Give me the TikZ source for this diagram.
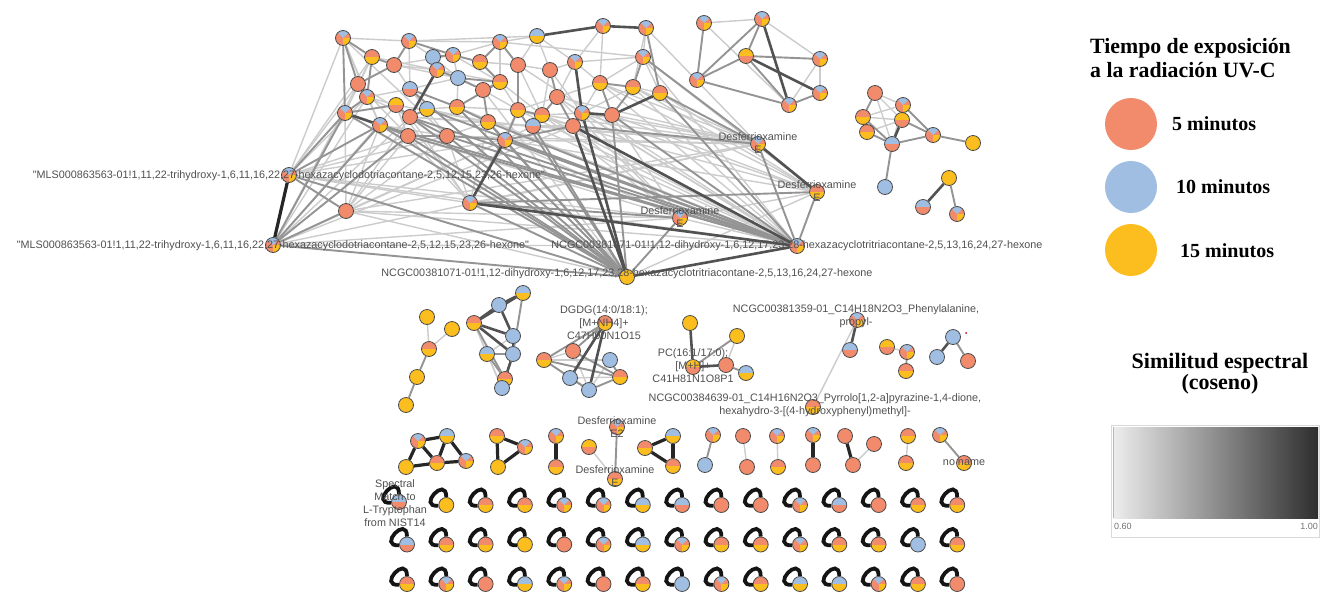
\documentclass[tikz,border=0pt]{standalone}
\usepackage{fontspec}
\setmainfont{Liberation Serif}
\newfontfamily\lsans{Liberation Sans}
\definecolor{cO}{RGB}{242,139,108}
\definecolor{cB}{RGB}{160,190,226}
\definecolor{cY}{RGB}{252,190,30}
\definecolor{cE}{RGB}{75,75,75}
\definecolor{cT}{RGB}{80,80,80}
\pgfdeclarelayer{bg}
\pgfsetlayers{bg,main}
\tikzset{
 nd/.style={circle,draw=cE,line width=0.8pt,minimum size=15pt,inner sep=0pt},
 lowhalf/.style={path picture={\fill[#1] (path picture bounding box.west) rectangle (path picture bounding box.south east);}},
 nO/.style={nd,fill=cO},
 nB/.style={nd,fill=cB},
 nY/.style={nd,fill=cY},
 nOY/.style={nd,fill=cO,lowhalf=cY},
 nBY/.style={nd,fill=cB,lowhalf=cY},
 nBO/.style={nd,fill=cB,lowhalf=cO},
 nYO/.style={nd,fill=cY,lowhalf=cO},
 nP/.style={nd,fill=cO,path picture={
   \fill[cB] (path picture bounding box.center) -- (path picture bounding box.north west) -- (path picture bounding box.north east) -- cycle;
   \fill[cY] (path picture bounding box.center) -- (path picture bounding box.east) -- (path picture bounding box.south east) -- (path picture bounding box.south) -- cycle;}},
 eL/.style={draw=black!20,line width=1.4pt},
 eM/.style={draw=black!42,line width=1.9pt},
 eD/.style={draw=black!68,line width=2.6pt},
 eK/.style={draw=black!85,line width=3.2pt},
 sl/.style={draw=black!92,line width=3.8pt},
 lbl/.style={font=\lsans\fontsize{10.8}{13}\selectfont,text=cT,inner sep=0pt,align=center},
 legc/.style={circle,minimum size=52pt,inner sep=0pt},
 legt/.style={font=\bfseries\fontsize{20}{24}\selectfont,inner sep=0pt,anchor=west},
}
\begin{document}
\begin{tikzpicture}[x=1pt,y=-1pt]
\useasboundingbox (0,0) rectangle (1320,592);
\begin{pgfonlayer}{bg}
\fill[white] (0,0) rectangle (1320,592);
\end{pgfonlayer}

% ---------------- main cluster nodes
\node[nP] (A1) at (343,38) {};
\node[nP] (A2) at (409,41) {};
\node[nOY] (A3) at (372,57) {};
\node[nO] (A4) at (394,65) {};
\node[nB] (A5) at (433,57) {};
\node[nP] (A6) at (453,55) {};
\node[nOY] (A7) at (480,62) {};
\node[nP] (A8) at (437,70) {};
\node[nB] (A9) at (458,78) {};
\node[nP] (A10) at (500,42) {};
\node[nO] (A11) at (518,65) {};
\node[nOY] (A12) at (500,82) {};
\node[nO] (A13) at (483,90) {};
\node[nBY] (A14) at (537,36) {};
\node[nO] (A15) at (550,70) {};
\node[nP] (A16) at (603,26) {};
\node[nP] (A17) at (646,28) {};
\node[nP] (A18) at (575,62) {};
\node[nP] (A19) at (643,57) {};
\node[nO] (A20) at (358,84) {};
\node[nBO] (A21) at (410,89) {};
\node[nP] (A22) at (367,97) {};
\node[nYO] (A23) at (396,105) {};
\node[nBY] (A24) at (427,109) {};
\node[nOY] (A25) at (457,107) {};
\node[nO] (A26) at (410,117) {};
\node[nP] (A27) at (345,113) {};
\node[nP] (A28) at (380,125) {};
\node[nOY] (A29) at (518,110) {};
\node[nOY] (A30) at (542,115) {};
\node[nOY] (A31) at (488,122) {};
\node[nBO] (A32) at (533,126) {};
\node[nO] (A33) at (557,97) {};
\node[nOY] (A34) at (600,83) {};
\node[nOY] (A35) at (633,87) {};
\node[nOY] (A36) at (660,93) {};
\node[nP] (A37) at (582,113) {};
\node[nO] (A38) at (612,115) {};
\node[nO] (A39) at (573,126) {};
\node[nO] (A40) at (408,136) {};
\node[nO] (A41) at (447,136) {};
\node[nP] (A42) at (505,140) {};
\node[nP] (MA) at (289,175) {};
\node[nP] (MB) at (273,245) {};
\node[nO] (X1) at (346,211) {};
\node[nP] (X2) at (470,203) {};
\node[nP] (NA) at (797,246) {};
\node[nY] (NB) at (627,277) {};
\node[nP] (DA) at (758,144) {};
\node[nOY] (DB) at (817,192) {};
\node[nP] (DC) at (680,218) {};

% ---------------- top right cluster
\node[nP] (T1) at (704,23) {};
\node[nP] (T2) at (762,19) {};
\node[nYO] (T3) at (746,56) {};
\node[nP] (T4) at (820,59) {};
\node[nP] (T5) at (697,80) {};
\node[nP] (T6) at (820,93) {};
\node[nP] (T7) at (789,105) {};

% ---------------- right cluster
\node[nO] (R1) at (875,93) {};
\node[nP] (R2) at (903,105) {};
\node[nOY] (R3) at (863,117) {};
\node[nYO] (R4) at (902,120) {};
\node[nOY] (R5) at (867,132) {};
\node[nBO] (R6) at (892,144) {};
\node[nP] (R7) at (933,135) {};
\node[nY] (R8) at (973,143) {};
\node[nB] (R9) at (885,187) {};
\node[nY] (R10) at (949,178) {};
\node[nBO] (R11) at (923,207) {};
\node[nP] (R12) at (957,214) {};

% ---------------- middle clusters
\node[nY] (M1) at (427,317) {};
\node[nY] (M2) at (452,329) {};
\node[nOY] (M3) at (429,349) {};
\node[nY] (M4) at (417,377) {};
\node[nY] (M5) at (406,405) {};
\node[nBY] (C1) at (523,293) {};
\node[nB] (C2) at (499,305) {};
\node[nOY] (C3) at (474,323) {};
\node[nB] (C4) at (513,336) {};
\node[nBY] (C5) at (487,354) {};
\node[nB] (C6) at (513,354) {};
\node[nOY] (C7) at (505,379) {};
\node[nB] (C8) at (502,388) {};
\node[nOY] (D1) at (605,323) {};
\node[nO] (D2) at (573,351) {};
\node[nOY] (D3) at (544,360) {};
\node[nB] (D4) at (610,360) {};
\node[nOY] (D5) at (620,377) {};
\node[nB] (D6) at (570,378) {};
\node[nB] (D7) at (589,390) {};
\node[nY] (P1) at (690,323) {};
\node[nY] (P2) at (737,336) {};
\node[nYO] (P3) at (693,367) {};
\node[nO] (P4) at (726,365) {};
\node[nBY] (P5) at (746,373) {};
\node[nP] (Q1) at (857,320) {};
\node[nBO] (Q2) at (850,350) {};
\node[nOY] (Q3) at (813,407) {};
\node[nYO] (S1) at (887,347) {};
\node[nP] (S2) at (907,352) {};
\node[nOY] (S3) at (906,371) {};
\node[nB] (U1) at (953,337) {};
\node[nB] (U2) at (937,357) {};
\node[nO] (U3) at (968,361) {};
\fill[red!80!black] (966,333) circle (1pt);

% ---------------- small components row
\node[nP] (V1) at (418,441) {};
\node[nBY] (V2) at (447,436) {};
\node[nY] (V3) at (406,467) {};
\node[nOY] (V4) at (437,463) {};
\node[nP] (V5) at (466,461) {};
\node[nOY] (W1) at (497,436) {};
\node[nP] (W2) at (525,447) {};
\node[nY] (W3) at (498,467) {};
\node[nP] (X3) at (556,436) {};
\node[nOY] (X4) at (556,467) {};
\node[nP] (Y1) at (617,427) {};
\node[nYO] (Y2) at (589,447) {};
\node[nOY] (Y3) at (615,479) {};
\node[nOY] (Z1) at (645,448) {};
\node[nBY] (Z2) at (673,436) {};
\node[nOY] (Z3) at (673,466) {};
\node[nP] (K1) at (713,435) {};
\node[nB] (K2) at (705,465) {};
\node[nO] (K3) at (743,436) {};
\node[nO] (K4) at (747,467) {};
\node[nP] (K5) at (777,436) {};
\node[nOY] (K6) at (778,467) {};
\node[nP] (K7) at (813,435) {};
\node[nO] (K8) at (813,465) {};
\node[nO] (K9) at (845,436) {};
\node[nO] (K10) at (853,465) {};
\node[nO] (K11) at (874,444) {};
\node[nOY] (K12) at (908,436) {};
\node[nOY] (K13) at (906,463) {};
\node[nP] (K14) at (940,435) {};
\node[nOY] (K15) at (964,463) {};

% ---------------- self-loop grid
\foreach \st [count=\i from 0] in {nBO,nY,nOY,nOY,nP,nP,nBY,nBO,nO,nO,nP,nBO,nO,nOY,nOY,
  nBO,nOY,nOY,nY,nO,nP,nBY,nP,nOY,nOY,nP,nOY,nOY,nB,nOY,
  nOY,nP,nO,nBY,nP,nO,nOY,nB,nP,nOY,nBY,nBY,nP,nOY,nO}{
  \pgfmathtruncatemacro\col{mod(\i,15)}
  \pgfmathtruncatemacro\row{div(\i,15)}
  \pgfmathsetmacro\xx{407+39.3*\col-8*(\i==0)}
  \pgfmathsetmacro\yy{505+39.5*\row-3*(\i==0)}
  \node[\st] (L\i) at (\xx,\yy) {};
  \begin{pgfonlayer}{bg}
  \draw[sl] (L\i) to[out=185,in=90,min distance=22pt] (L\i);
  \end{pgfonlayer}
}

% ---------------- edges
\begin{pgfonlayer}{bg}
\foreach \a/\b in {A1/A2,A2/A10,A4/A8,A5/A8,A6/A9,A10/A14,A14/A18,A16/A18,A18/A19,A17/A19,A15/A18,A19/A34,A33/A34,A11/A15,A29/A33,A21/A22,A22/A23,A3/A20,A24/A25,A12/A29,A30/A37,A32/A39,A35/A36,A9/A21,A7/A11,
  A1/MA,A20/MA,A27/X1,A28/X1,X1/NA,MA/A40,MA/A41,MA/X2,MA/A42,MB/A42,MB/A39,MB/DC,MB/NA,X1/NB,X2/DA,A42/DA,A41/DA,A38/DB,A36/DB,A19/DB,A35/DA,A34/DA,A33/NA,A11/NA,A30/DC,A13/NB,A25/NA,A31/DA,DC/DB,NB/DB,DC/NA,MA/DC,A2/A14,A6/A10,A20/A40,A21/A41,A4/A9,A23/A31,A8/A13,A10/A19,A26/DA,A40/DC,A1/A41,
  A3/A8,A4/A6,A5/A9,A6/A12,A8/A12,A20/A26,A21/A24,A22/A26,A22/A28,A23/A40,A24/A31,A25/A29,A26/A31,A27/A40,A28/A41,A9/A25,A11/A30,A12/A30,A13/A29,A15/A30,A15/A37,A16/A34,A17/A35,A18/A33,A18/A34,A33/A37,A34/A37,A35/A37,A29/A39,A30/A39,A31/A41,A32/A42,A2/A5,A1/A22,A1/A28,A3/A27,A2/A21,A4/A21,A10/A12,A14/A15,A19/A36,A14/A11,
  A22/MB,A23/MB,A26/MB,A20/MB,A3/MA,A22/MA,A26/X1,A40/X1,A41/X1,A42/X1,A23/X2,A26/X2,A40/X2,A41/X2,A31/X2,A29/X2,A37/DA,A38/DA,A33/DA,A30/DA,A32/DA,A39/DB,A37/DB,A34/DB,A35/DB,A42/DB,A33/DC,A38/DC,A39/DC,A42/DC,A37/DC,A32/NA,A30/NA,A29/NA,A35/NA,A34/NA,A37/NA,A19/NA,A17/DA,X1/DA,MA/NA,MB/DA,X1/DC}
  \draw[eL] (\a) -- (\b);
\foreach \a/\b in {A1/A3,A1/A27,A1/A20,A2/A4,A3/A4,A3/A22,A4/A20,A6/A7,A7/A10,A7/A12,A9/A12,A9/A13,A10/A11,A11/A29,A12/A13,A13/A31,A15/A33,A17/A36,A19/A35,A20/A22,A21/A25,A22/A27,A23/A26,A23/A27,A24/A26,A25/A31,A26/A41,A28/A40,A29/A30,A29/A42,A30/A32,A31/A42,A32/A33,A33/A39,A34/A35,A34/A38,A35/A38,A37/A39,A39/A42,A40/A41,A41/A42,A2/A6,A5/A6,A8/A9,A12/A25,
  A27/MB,A28/MB,A40/MB,A40/NA,A41/NA,A26/NA,A42/NA,A28/NA,A40/NB,A41/NB,A42/NB,A32/NB,A29/NB,A38/NA,A36/NA,A38/NB,A39/DA,A36/DA,A19/DA,X1/MB,X1/MA,X2/NB,X2/DC,X2/DB,MB/NB,MA/NB,NA/DA,NA/DB,NB/DC,A31/NA,A24/NA,A21/NB,A28/MA,A27/MA,A27/NB,A28/NB,A26/NB,A31/NB,A25/NB}
  \draw[eM] (\a) -- (\b);
\foreach \a/\b in {A8/A26,A27/A28,A18/A37,A37/A38,A36/A38,A16/A17,A14/A16,A39/NB,X2/NA,NB/NA,A37/NB,DA/DB,A39/NA,A42/X2}
  \draw[eD] (\a) -- (\b);
\draw[eK] (MA) -- (MB);
% top right
\foreach \a/\b in {T1/T2,T2/T4,T4/T7,T1/T7,T4/T6}
  \draw[eL] (\a) -- (\b);
\foreach \a/\b in {T1/T5,T2/T3,T2/T5,T3/T5,T3/T4,T3/T7,T5/T7,T6/T7}
  \draw[eM] (\a) -- (\b);
\foreach \a/\b in {T2/T7,T3/T6}
  \draw[eD] (\a) -- (\b);
% right
\foreach \a/\b in {R1/R2,R1/R4,R2/R3,R2/R6,R3/R4,R5/R4,R1/R6}
  \draw[eL] (\a) -- (\b);
\foreach \a/\b in {R1/R3,R3/R5,R3/R6,R2/R7,R4/R7,R5/R6,R6/R7,R7/R8,R6/R9,R10/R12}
  \draw[eM] (\a) -- (\b);
\foreach \a/\b in {R4/R6,R10/R11}
  \draw[eD] (\a) -- (\b);
% middle
\foreach \a/\b in {M1/M3,M2/M3}
  \draw[eL] (\a) -- (\b);
\foreach \a/\b in {M3/M4,M4/M5}
  \draw[eM] (\a) -- (\b);
\foreach \a/\b in {C3/C5,C4/C5,C5/C8,C3/C8,C7/C8,D2/D3,D3/D6,D4/D7,D2/D7,D3/D4,D5/D6,P2/P4,S1/S2,Q1/Q3,Y2/Y3}
  \draw[eL] (\a) -- (\b);
\foreach \a/\b in {C1/C6,C3/C7,C5/C6,C5/C7,C6/C8,D1/D3,D1/D2,D2/D5,D3/D5,D3/D7,D4/D5,D6/D7,D5/D7,P4/P5,P2/P3,S2/S3,U1/U3,Y1/Y3}
  \draw[eM] (\a) -- (\b);
\foreach \a/\b in {C1/C2,C1/C3,C2/C3,C2/C4,C3/C4,C3/C6,C4/C6,C6/C7,D1/D7,D1/D6,P1/P3,P3/P4,Q1/Q2,U1/U2}
  \draw[eD] (\a) -- (\b);
% small components
\foreach \a/\b in {K3/K4,K5/K6,K10/K11,K12/K13}
  \draw[eL] (\a) -- (\b);
\foreach \a/\b in {K1/K2,K14/K15}
  \draw[eM] (\a) -- (\b);
\foreach \a/\b in {V1/V2,V1/V3,V1/V4,V2/V4,V2/V5,V3/V4,V4/V5,W1/W2,W2/W3,W1/W3,X3/X4,Z1/Z2,Z2/Z3,Z1/Z3,K7/K8,K9/K10}
  \draw[eK] (\a) -- (\b);
\end{pgfonlayer}

% ---------------- labels
\node[lbl] (tMA) at (289,176) {"MLS000863563-01!1,11,22-trihydroxy-1,6,11,16,22,27-hexazacyclodotriacontane-2,5,12,15,23,26-hexone"};
\node[lbl] (tMB) at (273,246) {"MLS000863563-01!1,11,22-trihydroxy-1,6,11,16,22,27-hexazacyclodotriacontane-2,5,12,15,23,26-hexone"};
\node[lbl] (tNA) at (797,246) {NCGC00381071-01!1,12-dihydroxy-1,6,12,17,23,28-hexazacyclotritriacontane-2,5,13,16,24,27-hexone};
\node[lbl] (tNB) at (627,274) {NCGC00381071-01!1,12-dihydroxy-1,6,12,17,23,28-hexazacyclotritriacontane-2,5,13,16,24,27-hexone};
\node[lbl] (tDA) at (758,143) {Desferrioxamine\\E};
\node[lbl] (tDB) at (817,191) {Desferrioxamine\\E};
\node[lbl] (tDC) at (680,217) {Desferrioxamine\\E};
\node[lbl] (tD1) at (604,323) {DGDG(14:0/18:1);\\{}[M+NH4]+\\C47H90N1O15};
\node[lbl] (tP3) at (693,366) {PC(16:1/17:0);\\{}[M+H]+\\C41H81N1O8P1};
\node[lbl] (tQ1) at (856,316) {NCGC00381359-01\_C14H18N2O3\_Phenylalanine,\\propyl-};
\node[lbl] (tQ3) at (815,405) {NCGC00384639-01\_C14H16N2O3\_Pyrrolo[1,2-a]pyrazine-1,4-dione,\\hexahydro-3-[(4-hydroxyphenyl)methyl]-};
\node[lbl] (tY1) at (617,427) {Desferrioxamine\\E2};
\node[lbl] (tY3) at (615,476) {Desferrioxamine\\E};
\node[lbl] (tL0) at (395,503) {Spectral\\Match to\\L-Tryptophan\\from NIST14};
\node[lbl] (tK15) at (964,463) {no name};

% ---------------- legend
\node[font=\bfseries\fontsize{21.8}{24}\selectfont,align=left,inner sep=0pt,anchor=north west] (leg1) at (1090,38) {Tiempo de exposición\\a la radiación UV-C};
\node[legc,fill=cO] (kO) at (1131,124) {};
\node[legc,fill=cB] (kB) at (1131,187) {};
\node[legc,fill=cY] (kY) at (1131,250) {};
\node[legt] (k5) at (1172,124) {5 minutos};
\node[legt] (k10) at (1176,187) {10 minutos};
\node[legt] (k15) at (1180,251) {15 minutos};
\node[font=\bfseries\fontsize{22}{21}\selectfont,align=center,inner sep=0pt] (leg2) at (1220,374) {Similitud espectral\\(coseno)};
\draw[draw=black!15,line width=0.6pt] (1111,425) rectangle (1319,537);
\shade[left color=black!7,right color=black!82] (1113,427) rectangle (1318,518);
\draw[cB,line width=0.8pt] (1113.5,427) -- (1113.5,518);
\node[font=\lsans\fontsize{9}{10}\selectfont,text=black!55,anchor=west,inner sep=0pt] (g1) at (1114,526) {0.60};
\node[font=\lsans\fontsize{9}{10}\selectfont,text=black!55,anchor=east,inner sep=0pt] (g2) at (1318,526) {1.00};
\end{tikzpicture}
\end{document}
